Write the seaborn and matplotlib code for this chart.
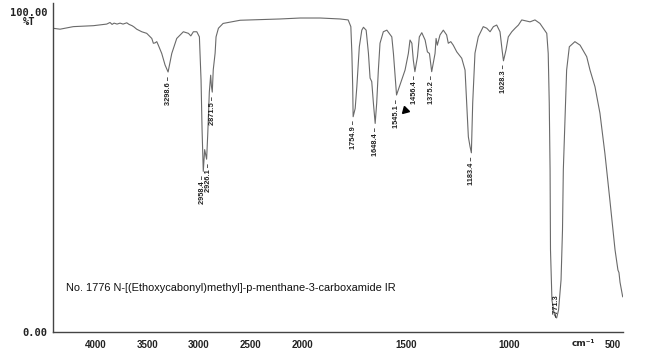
import numpy as np
import pandas as pd
import matplotlib
matplotlib.use("Agg")
import matplotlib.pyplot as plt
from matplotlib import font_manager
import seaborn as sns

# spectrum trace (wavenumber cm-1, %T)
wavenumber = [4414, 4343, 4215, 4020, 3892, 3860, 3840, 3821, 3792, 3763, 3734, 3698,
              3676, 3647, 3628, 3602, 3553, 3505, 3456, 3441, 3425, 3408, 3393, 3360,
              3328, 3298.6, 3263, 3215, 3151, 3102, 3079, 3054, 3021, 2996, 2980, 2970,
              2958.4, 2945, 2926.1, 2915, 2900, 2887, 2880, 2871.5, 2862, 2844, 2835,
              2812, 2767, 2602, 2216, 2022, 1914, 1818, 1779, 1766, 1761, 1757, 1754.9,
              1745, 1737, 1725, 1713, 1705, 1692, 1681, 1673, 1665, 1657, 1648.4, 1641,
              1633, 1625, 1609, 1592, 1568, 1560, 1552, 1545.1, 1520, 1504, 1488, 1480,
              1471, 1464, 1456.4, 1444, 1435, 1423, 1407, 1396, 1386, 1375.2, 1359,
              1354, 1348, 1335, 1319, 1303, 1295, 1283, 1271, 1254, 1230, 1214, 1206,
              1198, 1190, 1183.4, 1177, 1166, 1150, 1126, 1109, 1093, 1077, 1061, 1045,
              1035, 1028.3, 1016, 1005, 988, 972, 956, 940, 900, 876, 852, 836, 819, 812,
              807, 803, 801, 794, 782, 771.3, 762, 750, 743, 739, 731, 723, 710, 683,
              658, 626, 610, 586, 562, 538, 514, 489, 475, 470, 465, 452]
transmittance = [95.0, 94.7, 95.5, 95.8, 96.3, 96.8, 96.2, 96.6, 96.3, 96.6, 96.3, 96.7,
                 96.2, 95.8, 95.4, 94.7, 93.9, 93.4, 91.8, 90.3, 90.4, 90.8, 89.7, 87.1,
                 83.5, 81.3, 87.1, 91.8, 93.9, 93.4, 92.6, 93.9, 93.9, 92.3, 78.8, 63.1,
                 50.2, 57.0, 54.0, 62.0, 75.0, 80.3, 77.0, 75.0, 82.0, 87.2, 92.3,
                 95.0, 96.5, 97.5, 97.9, 98.2, 98.2, 97.9, 97.6, 95.5, 87.2, 76.7, 67.3,
                 69.9, 76.7, 89.2, 94.4, 95.3, 94.4, 87.2, 79.4, 78.3, 71.6, 65.2, 71.6,
                 81.9, 90.3, 93.9, 94.4, 92.3, 87.0, 80.0, 74.1, 78.8, 81.9, 87.1, 91.3,
                 90.3, 85.0, 81.4, 86.1, 92.3, 93.6, 91.3, 87.6, 87.1, 81.4, 87.1,
                 91.8, 89.7, 92.9, 94.4, 92.9, 90.3, 90.8, 89.7, 87.6, 85.6, 81.9, 71.6,
                 61.0, 58.0, 56.0, 71.6, 87.2, 92.3, 95.5, 95.0, 93.9, 95.5, 96.0, 93.9,
                 88.2, 84.8, 88.2, 92.3, 93.9, 95.0, 96.0, 97.6, 97.0, 97.6, 96.5, 95.0, 93.4, 87.1,
                 71.6, 50.6, 25.6, 9.9, 5.2, 4.3, 6.8, 16.2, 31.8, 50.6, 66.2, 81.9, 89.2, 90.8,
                 89.7, 86.1, 81.9, 76.7, 68.4, 55.8, 41.2, 25.6, 19.3, 18.5, 15.5, 10.9]

# peak picks
peak_wn = [3298.6, 2958.4, 2926.1, 2871.5, 1754.9, 1648.4, 1545.1, 1456.4, 1375.2, 1183.4, 1028.3]
peak_t = [81.3, 50.2, 54.0, 75.0, 67.3, 65.2, 74.1, 81.4, 81.4, 56.0, 84.8]
peak_txt = ["3298.6", "2958.4", "2926.1", "2871.5", "1754.9", "1648.4", "1545.1",
            "1456.4", "1375.2", "1183.4", "1028.3"]
x_ticks = [4000, 3500, 3000, 2500, 2000, 1500, 1000, 500]
title = "No. 1776 N-[(Ethoxycabonyl)methyl]-p-menthane-3-carboxamide IR"

df = pd.DataFrame({"wn": wavenumber, "T": transmittance})

names = {f.name for f in font_manager.fontManager.ttflist}
narrow = "Liberation Sans Narrow" if "Liberation Sans Narrow" in names else "Liberation Sans"

sns.set_style("white")
plt.rcParams["font.family"] = ["Liberation Sans", "DejaVu Sans"]


# IR chart: 4000-2000 at half the scale of 2000-400
def fwd(w):
    w = np.asarray(w, dtype=float)
    return np.where(w <= 2000, w, 2000 + (w - 2000) / 2.0)


def inv(u):
    u = np.asarray(u, dtype=float)
    return np.where(u <= 2000, u, 2000 + (u - 2000) * 2.0)


fig = plt.figure(figsize=(6.5, 3.54), dpi=100)
ax = fig.add_axes([52.7 / 650, 1 - 331.7 / 354, 570 / 650, 328.7 / 354])
ax.set_xscale("function", functions=(fwd, inv))

sns.lineplot(x="wn", y="T", data=df, sort=False, estimator=None,
             color="#6a6a6a", linewidth=0.8, ax=ax)

ax.set_xlim(4414, 452)
ax.set_ylim(0, 102.9)
ax.set_xlabel("")
ax.set_ylabel("")

for s in ["top", "right"]:
    ax.spines[s].set_visible(False)
for s in ["left", "bottom"]:
    ax.spines[s].set_color("#444444")
    ax.spines[s].set_linewidth(1.0)

ax.set_xticks(x_ticks)
ax.set_xticklabels([str(v) for v in x_ticks], fontsize=7, fontweight="bold", color="#222222")
ax.minorticks_off()
ax.set_yticks([0, 20, 40, 60, 80, 100])
ax.set_yticklabels(["0.00", "", "", "", "", "100.00"], family="DejaVu Sans Mono",
                   fontsize=7.5, fontweight="bold", color="#222222")
ax.tick_params(axis="x", direction="out", length=4, width=1, color="#444444", pad=2)
ax.tick_params(axis="y", direction="out", length=3.5, width=1, color="#444444", pad=0.5)
ax.grid(False)

fig.text(29 / 650, 1 - 22 / 354, "%T", family="DejaVu Sans Mono", fontsize=7.5,
         fontweight="bold", color="#222222", ha="center", va="center")
fig.text(583 / 650, 1 - 343 / 354, "cm⁻¹", family="DejaVu Sans", fontsize=6.5,
         fontweight="bold", color="#222222", ha="center", va="center")

label_x = dict(zip(peak_txt, peak_wn))
label_x["2958.4"] = 2966
label_x["2926.1"] = 2912
for w, t, s in zip(peak_wn, peak_t, peak_txt):
    ax.text(label_x[s], t - 1.2, s + " –", rotation=90, ha="center", va="top",
            family=narrow, fontsize=5.3, fontweight="bold", color="#222222")
ax.text(771.3, 4.6, "–771.3", rotation=90, ha="center", va="bottom",
        family=narrow, fontsize=5.3, fontweight="bold", color="#222222")

# stray cursor mark in the scan
ax.plot([1502], [69.5], marker=(3, 0, 135), markersize=6, color="black")

fig.text(66 / 650, 1 - 288 / 354, title, family=narrow, fontsize=7.9,
         color="#111111", ha="left", va="center")

fig.savefig("out.png", dpi=100)
